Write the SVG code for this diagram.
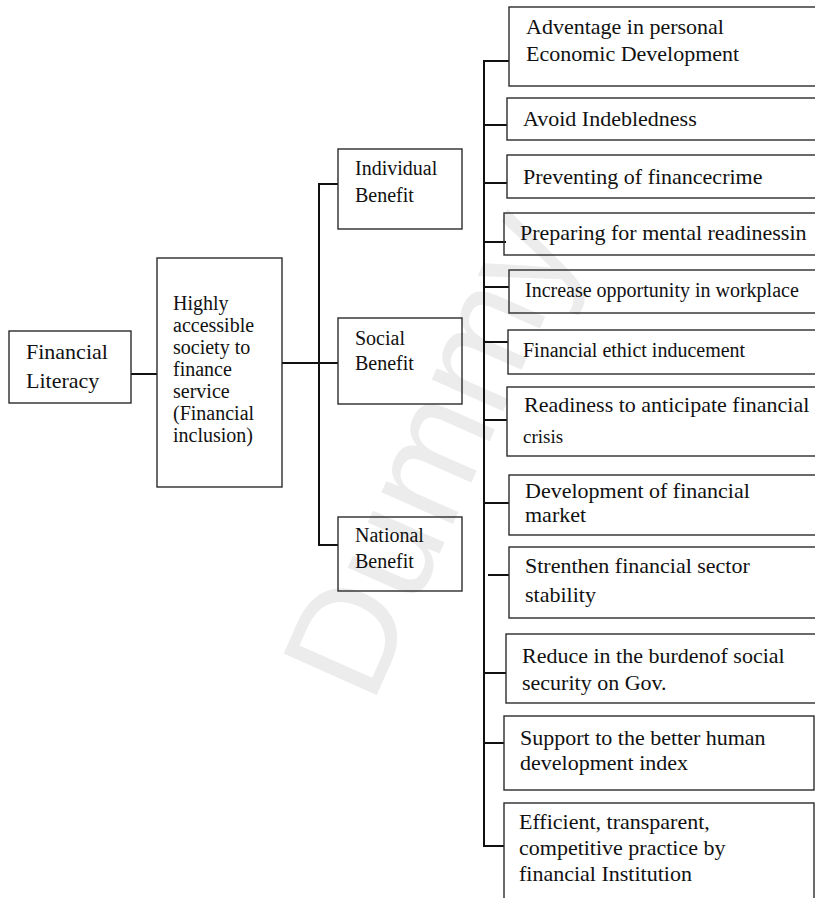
<svg xmlns="http://www.w3.org/2000/svg" width="815" height="898" viewBox="0 0 815 898">
  <style>
    .box { fill: none; stroke: #2b2b2b; stroke-width: 1.4; }
    .lbl { font-family: "Liberation Serif", "Times New Roman", serif; fill: #111111; }
    .l22 { font-size: 22px; }
    .l20 { font-size: 20px; }
    .wire { stroke: #111111; stroke-width: 2; fill: none; }
    .mark { font-family: "Liberation Sans", Arial, sans-serif; font-size: 148px; fill: #ececec; }
  </style>

  <rect x="0" y="0" width="815" height="898" fill="#ffffff"/>

  <!-- faint background watermark, painted first so everything sits above it -->
  <text class="mark" text-anchor="middle" transform="translate(428,452) rotate(-66)" x="0" y="52">Dummy</text>

  <!-- connectors -->
  <g id="connectors">
    <line class="wire" x1="131" y1="374" x2="157" y2="374"/>
    <line class="wire" x1="282" y1="363" x2="319" y2="363"/>
    <polyline class="wire" points="338,184 319,184 319,545 338,545"/>
    <line class="wire" x1="319" y1="363" x2="338" y2="363"/>
    <polyline class="wire" points="509,61 484,61 484,846 504,846"/>
    <line class="wire" x1="484" y1="125" x2="507" y2="125"/>
    <line class="wire" x1="484" y1="183" x2="507" y2="183"/>
    <line class="wire" x1="484" y1="242" x2="506" y2="242"/>
    <line class="wire" x1="484" y1="287" x2="509" y2="287"/>
    <line class="wire" x1="484" y1="342" x2="508" y2="342"/>
    <line class="wire" x1="484" y1="420" x2="507" y2="420"/>
    <line class="wire" x1="484" y1="503" x2="509" y2="503"/>
    <line class="wire" x1="488" y1="575" x2="509" y2="575"/>
    <line class="wire" x1="484" y1="673" x2="506" y2="673"/>
    <line class="wire" x1="484" y1="743" x2="504" y2="743"/>
  </g>

  <!-- root -->
  <g id="financial-literacy">
    <rect class="box" x="9" y="331" width="122" height="72"/>
    <text class="lbl l22" x="26" y="359">Financial</text>
    <text class="lbl l22" x="26" y="388">Literacy</text>
  </g>

  <g id="financial-inclusion">
    <rect class="box" x="157" y="258" width="125" height="229"/>
    <text class="lbl l20" x="173" y="310">Highly</text>
    <text class="lbl l20" x="173" y="332">accessible</text>
    <text class="lbl l20" x="173" y="354">society to</text>
    <text class="lbl l20" x="173" y="376">finance</text>
    <text class="lbl l20" x="173" y="398">service</text>
    <text class="lbl l20" x="173" y="420">(Financial</text>
    <text class="lbl l20" x="173" y="442">inclusion)</text>
  </g>

  <!-- benefit levels -->
  <g id="individual-benefit">
    <rect class="box" x="338" y="149" width="124" height="80"/>
    <text class="lbl l20" x="355" y="175">Individual</text>
    <text class="lbl l20" x="355" y="202">Benefit</text>
  </g>
  <g id="social-benefit">
    <rect class="box" x="338" y="318" width="124" height="86"/>
    <text class="lbl l20" x="355" y="345">Social</text>
    <text class="lbl l20" x="355" y="370">Benefit</text>
  </g>
  <g id="national-benefit">
    <rect class="box" x="338" y="517" width="124" height="74"/>
    <text class="lbl l20" x="355" y="542">National</text>
    <text class="lbl l20" x="355" y="568">Benefit</text>
  </g>

  <!-- benefits list -->
  <g id="personal-economic-development">
    <rect class="box" x="509" y="7" width="320" height="79"/>
    <text class="lbl l22" x="526" y="34">Adventage in personal</text>
    <text class="lbl l22" x="526" y="61">Economic Development</text>
  </g>
  <g id="avoid-indebtedness">
    <rect class="box" x="507" y="98" width="320" height="42"/>
    <text class="lbl l22" x="523" y="126">Avoid Indebledness</text>
  </g>
  <g id="preventing-crime">
    <rect class="box" x="507" y="155" width="320" height="43"/>
    <text class="lbl l22" x="523" y="184">Preventing of financecrime</text>
  </g>
  <g id="mental-readiness">
    <rect class="box" x="504" y="213" width="320" height="42"/>
    <text class="lbl l22" x="520" y="240">Preparing for mental readinessin</text>
  </g>
  <g id="workplace-opportunity">
    <rect class="box" x="509" y="270" width="320" height="43"/>
    <text class="lbl l20" x="525" y="297">Increase opportunity in workplace</text>
  </g>
  <g id="financial-ethics">
    <rect class="box" x="508" y="330" width="320" height="44"/>
    <text class="lbl l20" x="523" y="357">Financial ethict inducement</text>
  </g>
  <g id="crisis-readiness">
    <rect class="box" x="507" y="387" width="320" height="69"/>
    <text class="lbl l22" x="524" y="412">Readiness to anticipate financial</text>
    <text class="lbl" font-size="19" x="523" y="443">crisis</text>
  </g>
  <g id="market-development">
    <rect class="box" x="509" y="475" width="320" height="60"/>
    <text class="lbl l22" x="525" y="498">Development of financial</text>
    <text class="lbl l22" x="525" y="522">market</text>
  </g>
  <g id="sector-stability">
    <rect class="box" x="509" y="547" width="320" height="71"/>
    <text class="lbl l22" x="525" y="573">Strenthen financial sector</text>
    <text class="lbl l22" x="525" y="602">stability</text>
  </g>
  <g id="social-security">
    <rect class="box" x="506" y="634" width="320" height="69"/>
    <text class="lbl l22" x="522" y="663">Reduce in the burdenof social</text>
    <text class="lbl l22" x="522" y="690">security on Gov.</text>
  </g>
  <g id="human-development">
    <rect class="box" x="504" y="716" width="310" height="74"/>
    <text class="lbl l22" x="520" y="745">Support to the better human</text>
    <text class="lbl l22" x="520" y="770">development index</text>
  </g>
  <g id="institution-practice">
    <rect class="box" x="504" y="803" width="310" height="110"/>
    <text class="lbl l22" x="519" y="829">Efficient, transparent,</text>
    <text class="lbl l22" x="519" y="855">competitive practice by</text>
    <text class="lbl l22" x="519" y="881">financial Institution</text>
  </g>
</svg>
